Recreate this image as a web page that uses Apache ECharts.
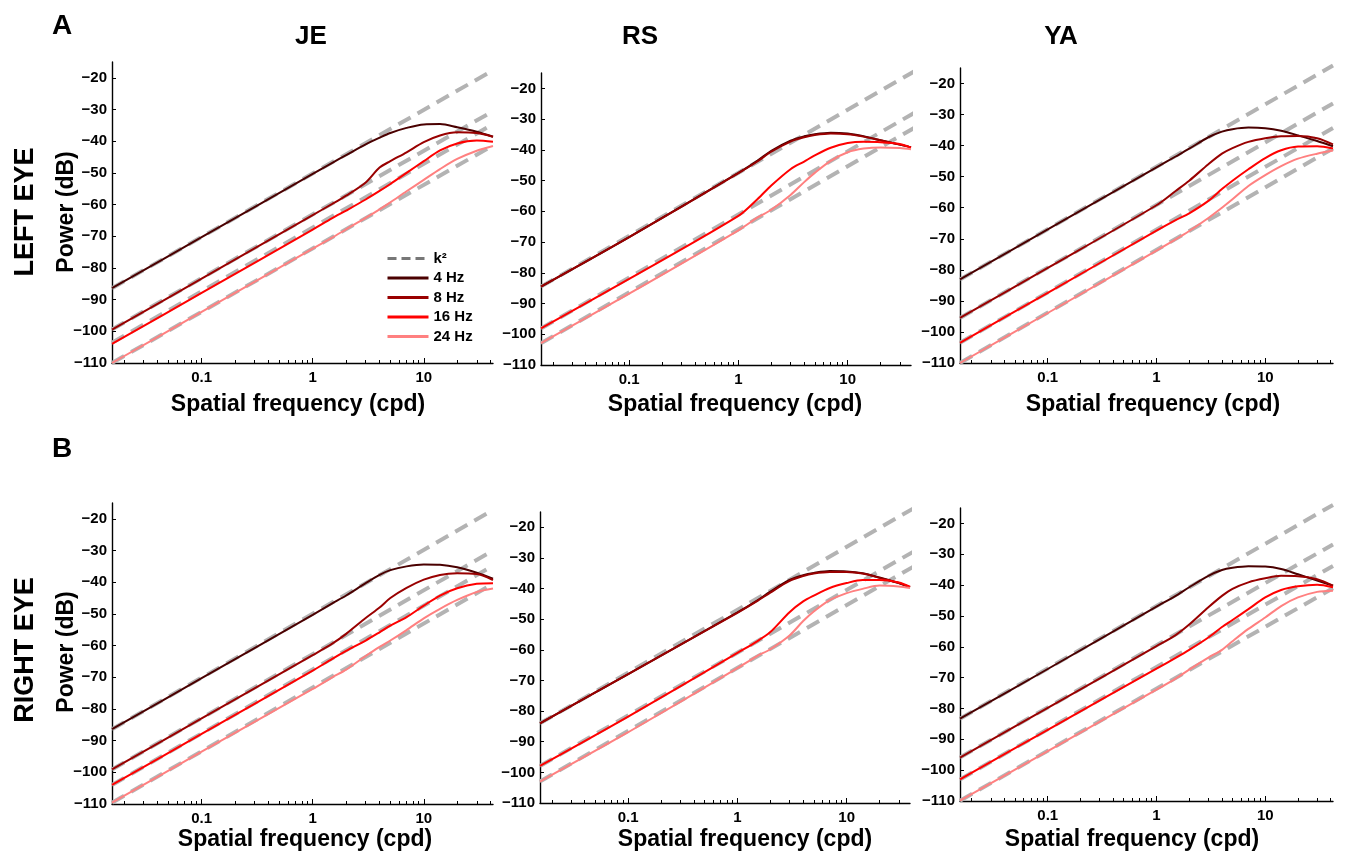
<!DOCTYPE html>
<html>
<head>
<meta charset="utf-8">
<title>Spatial power spectra</title>
<script src="https://cdn.jsdelivr.net/npm/echarts@6/dist/echarts.min.js"></script>
<style>
  html, body { margin: 0; padding: 0; background: #fff; }
  #chart { width: 1349px; height: 855px; }
</style>
</head>
<body>
<div id="chart"></div>
<script>
// spatial frequency samples (cpd); RS axes stop a bit earlier
const freqs = [0.0156, 0.1, 1, 1.5, 2, 3, 4, 5, 7, 10, 14, 20, 30, 42];
const freqsRS = [0.0156, 0.1, 1, 1.5, 2, 3, 4, 5, 7, 10, 14, 20, 30, 38];
const k2Span = [0.0156, 42];
const k2SpanRS = [0.0156, 48];

const yTicks = [-110, -100, -90, -80, -70, -60, -50, -40, -30, -20];
const xLabels = [0.1, 1, 10];
const xMinor = [0.02, 0.03, 0.04, 0.05, 0.06, 0.07, 0.08, 0.09,
  0.2, 0.3, 0.4, 0.5, 0.6, 0.7, 0.8, 0.9,
  2, 3, 4, 5, 6, 7, 8, 9, 20, 30, 40];

const hzNames = ['4 Hz', '8 Hz', '16 Hz', '24 Hz'];
const hzColors = ['#4a0000', '#990000', '#ff0000', '#ff8080'];
const k2Name = 'k²';

// A: left eye
const jeL4 = [-86.4, -70.3, -50.3, -46.8, -44.4, -41.0, -38.9, -37.4, -35.8, -34.7, -34.6, -35.6, -37.0, -38.6];
const jeL8 = [-99.5, -83.4, -63.3, -59.8, -57.2, -53.0, -48.3, -46.3, -43.5, -40.3, -38.2, -37.2, -37.4, -38.6];
const jeL16 = [-104.0, -87.9, -67.9, -64.3, -61.9, -58.4, -55.7, -53.5, -50.0, -46.3, -42.9, -40.7, -39.8, -40.2];
const jeL24 = [-110.0, -93.9, -73.9, -70.4, -67.8, -64.2, -61.5, -59.3, -55.8, -52.2, -48.8, -45.6, -43.0, -41.5];
const jeLk2Start = [-86.4, -99.4, -103.6, -110.0];
const jeLk2End = [-17.6, -30.5, -34.6, -41.3];

const rsL4 = [-84.5, -68.4, -47.5, -43.5, -40.3, -37.0, -35.6, -34.9, -34.4, -34.7, -35.6, -36.9, -38.3, -39.2];
const rsL8 = [-84.5, -68.4, -47.6, -43.7, -40.6, -37.3, -35.9, -35.2, -34.7, -34.9, -35.7, -36.9, -38.3, -39.2];
const rsL16 = [-98.1, -82.0, -61.5, -56.0, -51.6, -46.3, -43.8, -41.8, -39.3, -37.8, -37.4, -37.5, -38.1, -39.3];
const rsL24 = [-102.9, -86.8, -66.2, -62.0, -59.5, -54.7, -50.5, -47.5, -43.6, -40.8, -39.6, -39.2, -39.4, -39.8];
const rsLk2Start = [-84.5, -98.1, -102.9];
const rsLk2End = [-13.0, -26.5, -31.4];

const yaL4 = [-83.1, -67.0, -47.0, -43.5, -41.0, -37.3, -35.5, -34.7, -34.2, -34.4, -35.2, -36.7, -38.5, -40.2];
const yaL8 = [-95.5, -79.4, -59.2, -54.6, -51.3, -46.0, -42.6, -40.8, -38.8, -37.6, -37.0, -36.9, -37.6, -39.6];
const yaL16 = [-103.5, -87.4, -67.4, -64.0, -61.8, -57.8, -54.0, -51.3, -47.6, -44.0, -41.5, -40.3, -40.2, -40.9];
const yaL24 = [-110.0, -93.9, -73.8, -70.2, -67.5, -63.3, -60.0, -57.3, -53.0, -49.5, -46.6, -44.2, -42.6, -41.6];
const yaLk2Start = [-83.1, -95.5, -103.5, -110.0];
const yaLk2End = [-14.2, -26.4, -34.3, -40.9];

// B: right eye
const jeR4 = [-86.4, -70.3, -50.3, -46.7, -44.2, -40.3, -37.7, -36.2, -35.0, -34.4, -34.5, -35.3, -37.0, -38.9];
const jeR8 = [-99.1, -83.0, -63.0, -59.4, -56.3, -51.3, -48.0, -45.0, -41.8, -39.2, -37.7, -37.2, -37.4, -39.3];
const jeR16 = [-104.0, -87.9, -67.9, -64.2, -61.7, -58.4, -55.8, -53.7, -51.0, -47.4, -44.2, -41.9, -40.5, -40.3];
const jeR24 = [-109.6, -93.5, -73.7, -70.0, -67.6, -63.3, -60.4, -58.4, -55.1, -51.4, -48.4, -45.6, -43.1, -42.0];
const jeRk2Start = [-86.4, -99.1, -104.0, -109.6];
const jeRk2End = [-17.2, -30.0, -34.8, -40.5];

const rsR4 = [-84.0, -67.9, -47.8, -44.0, -41.0, -37.2, -35.6, -34.9, -34.3, -34.4, -35.0, -36.4, -38.2, -39.6];
const rsR8 = [-84.0, -67.9, -47.9, -44.2, -41.3, -37.5, -35.9, -35.1, -34.6, -34.6, -35.1, -36.5, -38.2, -39.6];
const rsR16 = [-97.9, -81.8, -61.0, -57.3, -54.2, -47.7, -44.2, -42.3, -39.8, -38.2, -37.2, -37.2, -38.0, -39.4];
const rsR24 = [-103.0, -86.9, -66.0, -62.1, -59.8, -55.3, -50.6, -47.5, -43.8, -41.5, -40.1, -39.0, -39.3, -39.8];
const rsRk2Start = [-84.0, -97.9, -103.0];
const rsRk2End = [-12.4, -26.5, -31.4];

const yaR4 = [-83.3, -67.2, -47.0, -43.5, -40.7, -37.0, -35.1, -34.4, -33.9, -34.0, -34.8, -36.5, -38.5, -40.2];
const yaR8 = [-95.9, -79.8, -59.8, -56.2, -52.8, -47.2, -43.5, -41.2, -39.1, -37.8, -37.0, -37.1, -38.1, -40.2];
const yaR16 = [-103.0, -86.9, -67.1, -63.6, -61.0, -57.0, -53.6, -51.3, -47.8, -44.0, -41.6, -40.4, -39.9, -40.7];
const yaR24 = [-109.9, -93.8, -73.9, -70.3, -67.4, -63.5, -61.0, -58.2, -54.2, -50.5, -46.8, -44.0, -42.2, -41.8];
const yaRk2Start = [-83.3, -95.9, -103.0, -109.9];
const yaRk2End = [-14.0, -26.8, -33.8, -41.0];

const FONT = '"Liberation Sans", Arial, Helvetica, sans-serif';

const panels = [
  { grid: { left: 112, top: 62, width: 381, height: 301 }, xMax: 42, freqs: freqs,
    curves: [jeL4, jeL8, jeL16, jeL24], k2X: k2Span, k2Start: jeLk2Start, k2End: jeLk2End },
  { grid: { left: 541, top: 73, width: 370, height: 292 }, xMax: 38, freqs: freqsRS,
    curves: [rsL4, rsL8, rsL16, rsL24], k2X: k2SpanRS, k2Start: rsLk2Start, k2End: rsLk2End },
  { grid: { left: 960, top: 68, width: 373, height: 295 }, xMax: 42, freqs: freqs,
    curves: [yaL4, yaL8, yaL16, yaL24], k2X: k2Span, k2Start: yaLk2Start, k2End: yaLk2End },
  { grid: { left: 112, top: 503, width: 381, height: 301 }, xMax: 42, freqs: freqs,
    curves: [jeR4, jeR8, jeR16, jeR24], k2X: k2Span, k2Start: jeRk2Start, k2End: jeRk2End },
  { grid: { left: 540, top: 512, width: 370, height: 291 }, xMax: 38, freqs: freqsRS,
    curves: [rsR4, rsR8, rsR16, rsR24], k2X: k2SpanRS, k2Start: rsRk2Start, k2End: rsRk2End },
  { grid: { left: 960, top: 508, width: 373, height: 293 }, xMax: 42, freqs: freqs,
    curves: [yaR4, yaR8, yaR16, yaR24], k2X: k2Span, k2Start: yaRk2Start, k2End: yaRk2End },
];

const labelStyle = { fontFamily: FONT, fontWeight: 'bold', fontSize: 15, color: '#000' };
const grids = [], xAxes = [], yAxes = [], series = [];

panels.forEach((p, i) => {
  grids.push(Object.assign({ outerBoundsMode: 'none', containLabel: false }, p.grid));
  // major ticks + labels
  xAxes.push({
    type: 'log', logBase: 10, gridIndex: i, min: 0.0156, max: p.xMax,
    axisLine: { show: true, onZero: false, lineStyle: { color: '#000', width: 1.4 } },
    axisTick: { show: true, inside: true, length: 5, customValues: xLabels, lineStyle: { color: '#000' } },
    axisLabel: Object.assign({ customValues: xLabels, margin: 7,
      formatter: v => (v >= 1 ? String(Math.round(v)) : v.toFixed(1)) }, labelStyle),
    minorTick: { show: false },
    splitLine: { show: false },
  });
  // minor ticks
  xAxes.push({
    type: 'log', logBase: 10, gridIndex: i, min: 0.0156, max: p.xMax, position: 'bottom',
    axisLine: { show: false },
    axisTick: { show: true, inside: true, length: 3, customValues: xMinor.filter(v => v <= p.xMax),
      lineStyle: { color: '#000' } },
    axisLabel: { show: false },
    splitLine: { show: false },
  });
  yAxes.push({
    type: 'value', gridIndex: i, min: -110, max: -15,
    axisLine: { show: true, onZero: false, lineStyle: { color: '#000', width: 1.4 } },
    axisTick: { show: true, inside: true, length: 4, customValues: yTicks, lineStyle: { color: '#000' } },
    axisLabel: Object.assign({ customValues: yTicks, margin: 5,
      formatter: v => String(v).replace('-', '\u2212') }, labelStyle),
    splitLine: { show: false },
  });

  p.k2Start.forEach((y0, j) => {
    series.push({
      name: k2Name, type: 'line', xAxisIndex: 2 * i, yAxisIndex: i,
      symbol: 'none', clip: false, silent: true, z: 1,
      lineStyle: { color: '#b3b3b3', width: 4, type: [14, 8], cap: 'butt' },
      itemStyle: { color: '#b3b3b3' },
      data: [[p.k2X[0], y0], [p.k2X[1], p.k2End[j]]],
    });
  });
  p.curves.forEach((vals, j) => {
    series.push({
      name: hzNames[j], type: 'line', xAxisIndex: 2 * i, yAxisIndex: i,
      symbol: 'none', smooth: 0.3, z: 2,
      lineStyle: { color: hzColors[j], width: 2 },
      itemStyle: { color: hzColors[j] },
      data: p.freqs.map((f, k) => [f, vals[k]]),
    });
  });
});

const texts = [
  { t: 'A', x: 62, y: 26, size: 28 },
  { t: 'B', x: 62, y: 449, size: 28 },
  { t: 'JE', x: 311, y: 37, size: 26 },
  { t: 'RS', x: 640, y: 37, size: 26 },
  { t: 'YA', x: 1061, y: 37, size: 26 },
  { t: 'LEFT EYE', x: 26, y: 212, size: 27, rot: true },
  { t: 'RIGHT EYE', x: 26, y: 650, size: 27, rot: true },
  { t: 'Power (dB)', x: 67, y: 212, size: 23, rot: true },
  { t: 'Power (dB)', x: 67, y: 652, size: 23, rot: true },
  { t: 'Spatial frequency (cpd)', x: 298, y: 405, size: 23 },
  { t: 'Spatial frequency (cpd)', x: 735, y: 405, size: 23 },
  { t: 'Spatial frequency (cpd)', x: 1153, y: 405, size: 23 },
  { t: 'Spatial frequency (cpd)', x: 305, y: 840, size: 23 },
  { t: 'Spatial frequency (cpd)', x: 745, y: 840, size: 23 },
  { t: 'Spatial frequency (cpd)', x: 1132, y: 840, size: 23 },
];

const option = {
  animation: false,
  backgroundColor: '#fff',
  grid: grids,
  xAxis: xAxes,
  yAxis: yAxes,
  series: series,
  legend: {
    left: 381, top: 246, orient: 'vertical',
    itemWidth: 41, itemHeight: 14, itemGap: 4.5,
    itemStyle: { opacity: 0 },
    textStyle: labelStyle,
    selectedMode: false,
    data: [
      { name: k2Name, lineStyle: { color: '#777', width: 3, type: [9, 5] } },
      { name: '4 Hz', lineStyle: { color: hzColors[0], width: 3 } },
      { name: '8 Hz', lineStyle: { color: hzColors[1], width: 3 } },
      { name: '16 Hz', lineStyle: { color: hzColors[2], width: 3 } },
      { name: '24 Hz', lineStyle: { color: hzColors[3], width: 3 } },
    ],
  },
  graphic: texts.map(d => ({
    type: 'text', x: d.x, y: d.y, rotation: d.rot ? Math.PI / 2 : 0,
    style: { text: d.t, fill: '#000', align: 'center', verticalAlign: 'middle',
      font: 'bold ' + d.size + 'px ' + FONT },
  })),
};

echarts.init(document.getElementById('chart'), null, { renderer: 'canvas' }).setOption(option);
</script>
</body>
</html>
